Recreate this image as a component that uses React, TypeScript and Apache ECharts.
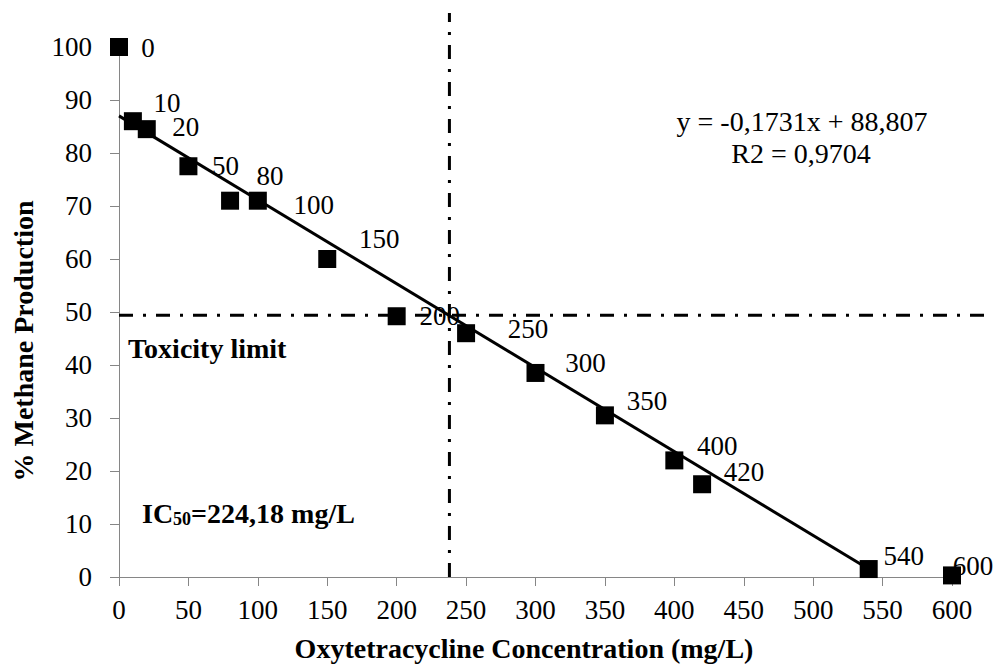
import React, { useEffect, useRef } from "react";
import * as echarts from "echarts";

// ---- data ----
const concentrations = [0, 10, 20, 50, 80, 100, 150, 200, 250, 300, 350, 400, 420, 540, 600];
const methanePct = [100, 86, 84.5, 77.5, 71, 71, 60, 49.2, 46, 38.5, 30.5, 22, 17.5, 1.5, 0.3];
const trendX = [0, 540];
const trendY = [87, 1.5];
const toxicityLimit = 49.4;
const cutoffConcentration = 238;
const xTickRange = { min: 0, max: 600, interval: 50 };
const yTickRange = { min: 0, max: 100, interval: 10 };

// ---- layout (label placement, in px relative to the marker centre) ----
const labelOffsets: [number, number][] = [
  [29, 1], [34, -18], [39, -2], [37, 0], [40, -25], [56, 4], [52, -20], [43, 0],
  [62, -4], [50, -10], [42, -14], [43, -14], [42, -12], [35, -13], [21, -9],
];

const FONT = "'Liberation Serif', 'Times New Roman', serif";
const AXIS_GRAY = "#868686";

export default function App() {
  const ref = useRef<HTMLDivElement>(null);

  useEffect(() => {
    if (!ref.current) return;
    const chart = echarts.init(ref.current, null, { renderer: "svg" });
    const option: any = {
      animation: false,
      backgroundColor: "#ffffff",
      grid: { left: 119, right: 43, top: 47, bottom: 94, containLabel: false },
      xAxis: {
        type: "value",
        min: xTickRange.min,
        max: xTickRange.max,
        interval: xTickRange.interval,
        axisLine: { show: true, onZero: false, lineStyle: { color: AXIS_GRAY, width: 1 } },
        axisTick: { show: true, inside: false, length: 9, lineStyle: { color: AXIS_GRAY } },
        splitLine: { show: false },
        axisLabel: { color: "#000", fontFamily: FONT, fontSize: 27, margin: 19 },
      },
      yAxis: {
        type: "value",
        min: yTickRange.min,
        max: yTickRange.max,
        interval: yTickRange.interval,
        axisLine: { show: true, onZero: false, lineStyle: { color: AXIS_GRAY, width: 1 } },
        axisTick: { show: true, inside: false, length: 9, lineStyle: { color: AXIS_GRAY } },
        splitLine: { show: false },
        axisLabel: { color: "#000", fontFamily: FONT, fontSize: 27, margin: 27 },
      },
      series: [
        {
          type: "line",
          data: trendX.map((x, i) => [x, trendY[i]]),
          symbol: "none",
          lineStyle: { color: "#000", width: 3 },
          z: 2,
        },
        {
          type: "scatter",
          symbol: "rect",
          symbolSize: 18,
          itemStyle: { color: "#000", opacity: 1 },
          z: 3,
          data: concentrations.map((x, i) => ({
            value: [x, methanePct[i]],
            label: { offset: labelOffsets[i] },
          })),
          label: {
            show: true,
            position: "inside",
            color: "#000",
            opacity: 1,
            fontFamily: FONT,
            fontSize: 27,
            formatter: (p: any) => String(p.value[0]),
          },
        },
      ],
    };
    chart.setOption(option);

    const [hx0, hy] = chart.convertToPixel({ gridIndex: 0 }, [0, toxicityLimit]) as number[];
    const [vx, vy0] = chart.convertToPixel({ gridIndex: 0 }, [cutoffConcentration, 0]) as number[];
    const dash = [14, 10, 3, 10];

    chart.setOption({
      graphic: [
        {
          type: "line",
          shape: { x1: hx0, y1: hy, x2: 990, y2: hy },
          style: { stroke: "#000", lineWidth: 3, lineDash: dash },
          z: 10,
        },
        {
          type: "line",
          shape: { x1: vx, y1: vy0, x2: vx, y2: 13 },
          style: { stroke: "#000", lineWidth: 3, lineDash: dash },
          z: 10,
        },
        {
          type: "text",
          x: 128,
          y: 348,
          style: {
            text: "Toxicity limit",
            fill: "#000",
            font: `bold 28px ${FONT}`,
            align: "left",
            verticalAlign: "middle",
          },
          z: 10,
        },
        {
          type: "text",
          x: 142,
          y: 513,
          style: {
            text: "{b|IC}{s|50}{b|=224,18 mg/L}",
            fill: "#000",
            align: "left",
            verticalAlign: "middle",
            rich: {
              b: { fontFamily: FONT, fontWeight: "bold", fontSize: 28, color: "#000" },
              s: { fontFamily: FONT, fontWeight: "bold", fontSize: 18, color: "#000", padding: [11, 0, 0, 0] },
            },
          },
          z: 10,
        },
        {
          type: "text",
          x: 802,
          y: 121,
          style: {
            text: "y = -0,1731x + 88,807",
            fill: "#000",
            font: `28px ${FONT}`,
            align: "center",
            verticalAlign: "middle",
          },
          z: 10,
        },
        {
          type: "text",
          x: 801,
          y: 153,
          style: {
            text: "R2 = 0,9704",
            fill: "#000",
            font: `28px ${FONT}`,
            align: "center",
            verticalAlign: "middle",
          },
          z: 10,
        },
        {
          type: "text",
          x: 524,
          y: 648,
          style: {
            text: "Oxytetracycline Concentration (mg/L)",
            fill: "#000",
            font: `bold 28px ${FONT}`,
            align: "center",
            verticalAlign: "middle",
          },
          z: 10,
        },
        {
          type: "text",
          x: 23,
          y: 341,
          rotation: Math.PI / 2,
          style: {
            text: "% Methane Production",
            fill: "#000",
            font: `bold 28px ${FONT}`,
            align: "center",
            verticalAlign: "middle",
          },
          z: 10,
        },
      ],
    });

    return () => chart.dispose();
  }, []);

  return (
    <div
      ref={ref}
      style={{ position: "absolute", left: 0, top: 0, width: 995, height: 671 }}
    />
  );
}
